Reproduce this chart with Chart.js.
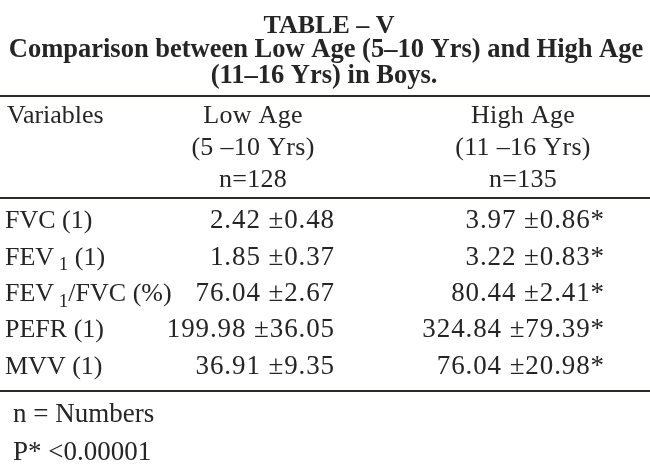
<!DOCTYPE html>
<html>
<head>
<meta charset="utf-8">
<script src="https://cdn.jsdelivr.net/npm/chart.js@4"></script>
<style>
  html, body { margin: 0; padding: 0; background: #fff; }
  #wrap { width: 650px; height: 470px; }
</style>
</head>
<body>
<div id="wrap"><canvas id="tableChart" width="650" height="470"></canvas></div>
<script>
// table contents
const tableTitle = 'TABLE \u2013 V';
const tableSubtitle = ['Comparison between Low Age (5\u201310 Yrs) and High Age', '(11\u201316 Yrs) in Boys.'];
const columns = ['Low Age', 'High Age'];
const varHeader = 'Variables';
const lowHeader = ['Low Age', '(5 \u201310 Yrs)', 'n=128'];
const highHeader = ['High Age', '(11 \u201316 Yrs)', 'n=135'];
const variables = ['FVC (1)', 'FEV\u2081 (1)', 'FEV\u2081/FVC (%)', 'PEFR (1)', 'MVV (1)'];
const lowMean = [2.42, 1.85, 76.04, 199.98, 36.91];
const lowSD = [0.48, 0.37, 2.67, 36.05, 9.35];
const highMean = [3.97, 3.22, 80.44, 324.84, 76.04];
const highSD = [0.86, 0.83, 2.41, 79.39, 20.98];
const pMark = '*';
const footnotes = ['n = Numbers', 'P* <0.00001'];

const INK = '#252525';
const FONT = "'Liberation Serif', 'Times New Roman', serif";

function cellText(mean, sd, mark) {
    return mean.toFixed(2) + ' \u00b1' + sd.toFixed(2) + (mark || '');
}

// draws text, turning "₁" into a lowered small 1
function drawText(ctx, text, x, y, align, size, weight, spacing) {
    const parts = text.split('\u2081');
    const big = (weight || '') + ' ' + size + 'px ' + FONT;
    const small = (weight || '') + ' ' + Math.round(size * 0.72) + 'px ' + FONT;
    ctx.letterSpacing = (spacing || 0) + 'px';
    let w = 0;
    parts.forEach((p, i) => {
        ctx.font = big;
        w += ctx.measureText(p).width;
        if (i < parts.length - 1) {
            ctx.font = small;
            w += ctx.measureText(' 1').width;
        }
    });
    let cx = x;
    if (align === 'right') cx = x - w;
    if (align === 'center') cx = x - w / 2;
    ctx.textAlign = 'left';
    ctx.textBaseline = 'alphabetic';
    parts.forEach((p, i) => {
        ctx.font = big;
        ctx.fillText(p, cx, y);
        cx += ctx.measureText(p).width;
        if (i < parts.length - 1) {
            ctx.font = small;
            ctx.fillText(' 1', cx, y + size * 0.22);
            cx += ctx.measureText(' 1').width;
        }
    });
    ctx.letterSpacing = '0px';
}

function rule(ctx, y, w) {
    ctx.save();
    ctx.strokeStyle = '#2e2a26';
    ctx.lineWidth = 2;
    ctx.beginPath();
    ctx.moveTo(0, y);
    ctx.lineTo(w, y);
    ctx.stroke();
    ctx.restore();
}

const tablePlugin = {
    id: 'tablePlugin',
    beforeDraw(chart) {
        const ctx = chart.ctx;
        ctx.save();
        ctx.fillStyle = '#fff';
        ctx.fillRect(0, 0, chart.width, chart.height);
        ctx.restore();
    },
    afterDatasetsDraw(chart) {
        const ctx = chart.ctx;
        const area = chart.chartArea;
        const xs = chart.scales.x;
        const ys = chart.scales.y;
        const W = chart.width;
        ctx.save();
        ctx.fillStyle = INK;

        // title block
        drawText(ctx, tableTitle, W / 2 + 4, 33, 'center', 26, 'bold');
        drawText(ctx, tableSubtitle[0], W / 2 + 1, 57, 'center', 26.5, 'bold');
        drawText(ctx, tableSubtitle[1], W / 2 - 1, 83, 'center', 26.5, 'bold');
        rule(ctx, 96, W);

        // column headers
        const lowX = xs.getPixelForValue(0);
        const highX = xs.getPixelForValue(1);
        drawText(ctx, varHeader, 7, area.top - 78, 'left', 26);
        lowHeader.forEach((t, i) => drawText(ctx, t, lowX, area.top - 78 + i * 32, 'center', 26, '', 0.3));
        highHeader.forEach((t, i) => drawText(ctx, t, highX, area.top - 78 + i * 32, 'center', 26, '', 0.3));
        rule(ctx, area.top - 3, W);

        // body rows
        variables.forEach((v, i) => {
            const y = ys.getPixelForValue(i) + 9;
            drawText(ctx, v, 5, y, 'left', 26);
        });
        chart.data.datasets.forEach((ds, di) => {
            const meta = chart.getDatasetMeta(di);
            meta.data.forEach((pt, i) => {
                drawText(ctx, ds.cells[i], pt.x + 82, pt.y + 9, 'right', 27, '', 0.9);
            });
        });
        rule(ctx, area.bottom + 8, W);

        // footnotes
        footnotes.forEach((t, i) => drawText(ctx, t, 13, area.bottom + 39 + i * 38, 'left', 27));
        ctx.restore();
    }
};

new Chart(document.getElementById('tableChart'), {
    type: 'scatter',
    data: {
        datasets: [
            {
                label: columns[0],
                data: variables.map(v => ({ x: columns[0], y: v })),
                cells: lowMean.map((m, i) => cellText(m, lowSD[i])),
                pointRadius: 0
            },
            {
                label: columns[1],
                data: variables.map(v => ({ x: columns[1], y: v })),
                cells: highMean.map((m, i) => cellText(m, highSD[i], pMark)),
                pointRadius: 0
            }
        ]
    },
    options: {
        responsive: false,
        animation: false,
        devicePixelRatio: 1,
        layout: { padding: { left: 253, right: 127, top: 201, bottom: 87 } },
        scales: {
            x: { type: 'category', labels: columns, offset: false, display: false },
            y: { type: 'category', labels: variables, offset: true, display: false }
        },
        plugins: {
            legend: { display: false },
            tooltip: { enabled: false }
        }
    },
    plugins: [tablePlugin]
});
</script>
</body>
</html>
